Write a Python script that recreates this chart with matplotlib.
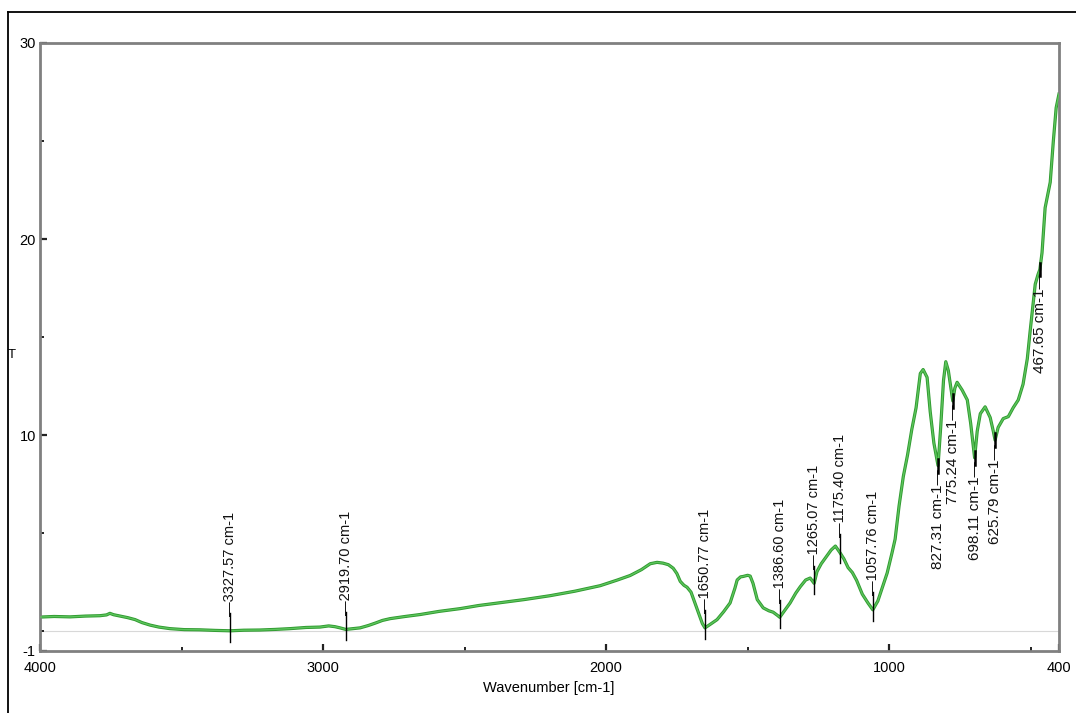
import matplotlib
matplotlib.use("Agg")
import matplotlib.pyplot as plt
import numpy as np
from matplotlib.lines import Line2D

plt.rcParams['font.family'] = ['Liberation Sans', 'DejaVu Sans']

# IR transmittance spectrum
wavenumber = [4000, 3950, 3894, 3840, 3788, 3765, 3753, 3740, 3717, 3690, 3664, 3640, 3611,
              3580, 3541, 3490, 3435, 3380, 3327.57, 3280, 3223, 3170, 3117, 3060, 3011,
              2980, 2958, 2940, 2919.70, 2895, 2869, 2840, 2816, 2790, 2763, 2710, 2657,
              2590, 2516, 2450, 2375, 2290, 2198, 2110, 2021, 1960, 1915, 1875, 1844, 1820,
              1799, 1780, 1763, 1750, 1738, 1725, 1714, 1700, 1693, 1680, 1668, 1660,
              1650.77, 1630, 1608, 1585, 1562, 1545, 1537, 1525, 1516, 1500, 1491, 1481,
              1466, 1445, 1425, 1410, 1395, 1386.60, 1370, 1350, 1330, 1314, 1295, 1279,
              1265.07, 1255, 1240, 1225, 1205, 1190, 1175.40, 1160, 1145, 1130, 1115, 1095,
              1075, 1057.76, 1040, 1025, 1007, 990, 979, 965, 950, 935, 920, 905, 890, 880,
              866, 855, 842, 827.31, 818, 808, 800, 791, 784, 775.24, 768, 760, 742, 724,
              712, 698.11, 689, 678, 661, 643, 632, 625.79, 615, 597, 579, 562, 544, 527,
              512, 502, 484, 474, 467.65, 460, 449, 431, 420, 410, 400]
transmittance = [0.73, 0.76, 0.74, 0.78, 0.80, 0.84, 0.92, 0.85, 0.78, 0.70, 0.60, 0.45, 0.32,
                 0.22, 0.14, 0.09, 0.08, 0.05, 0.03, 0.06, 0.07, 0.10, 0.14, 0.20, 0.22,
                 0.28, 0.24, 0.18, 0.10, 0.14, 0.18, 0.30, 0.42, 0.56, 0.65, 0.76, 0.86,
                 1.02, 1.16, 1.32, 1.46, 1.62, 1.82, 2.05, 2.33, 2.62, 2.85, 3.15, 3.45, 3.52,
                 3.48, 3.40, 3.22, 2.95, 2.55, 2.35, 2.25, 2.00, 1.72, 1.20, 0.72, 0.40,
                 0.18, 0.38, 0.60, 1.00, 1.45, 2.20, 2.62, 2.78, 2.80, 2.86, 2.82, 2.45,
                 1.62, 1.20, 1.05, 0.98, 0.82, 0.72, 1.05, 1.45, 1.95, 2.28, 2.62, 2.72,
                 2.45, 3.05, 3.45, 3.75, 4.15, 4.35, 4.05, 3.70, 3.25, 3.00, 2.60, 1.90,
                 1.45, 1.10, 1.55, 2.20, 2.98, 4.00, 4.70, 6.40, 7.90, 9.00, 10.30, 11.40,
                 13.15, 13.35, 12.95, 11.20, 9.60, 8.45, 10.40, 12.80, 13.75, 13.30, 12.60,
                 11.75, 12.40, 12.70, 12.30, 11.80, 10.60, 8.85, 10.20, 11.10, 11.45, 10.90,
                 10.20, 9.75, 10.40, 10.85, 10.95, 11.40, 11.80, 12.60, 13.90, 15.30, 17.70,
                 18.20, 18.45, 19.30, 21.60, 22.90, 25.00, 26.70, 27.40]

# Peak annotations: labels above the trace and labels hanging below it
peaks_above = [3327.57, 2919.70, 1650.77, 1386.60, 1265.07, 1175.40, 1057.76]
peaks_below = [827.31, 775.24, 698.11, 625.79, 467.65]

x_ticks = [4000, 3000, 2000, 1000, 400]
x_minor = [3500, 2500, 1500, 500]
y_ticks = [-1, 10, 20, 30]
y_minor = [0, 5, 15, 25]

fig = plt.figure(figsize=(10.76, 7.13), dpi=100)
ax = fig.add_axes([40 / 1076, 1 - 651 / 713, (1059 - 40) / 1076, (651 - 43) / 713])

ax.axhline(0, color='#d8d8d8', lw=0.8, zorder=1)
ax.plot(wavenumber, transmittance, color='#2f9a2f', lw=2.3, zorder=2, solid_joinstyle='round')
ax.plot(wavenumber, transmittance, color='#5cc45c', lw=1.0, zorder=3, solid_joinstyle='round')

wn = np.array(wavenumber)[::-1]
tr = np.array(transmittance)[::-1]

for p in peaks_above:
    y = np.interp(p, wn, tr)
    ax.plot([p, p], [y - 0.55, y + 0.9], color='black', lw=1.0, zorder=4)
    ax.text(p, y + 0.75, f"\u2014{p:.2f} cm-1", rotation=90, ha='center', va='bottom',
            fontsize=10.5, color='#111111')

for p in peaks_below:
    y = np.interp(p, wn, tr)
    ax.plot([p, p], [y + 0.35, y - 0.35], color='black', lw=1.8, zorder=4)
    ax.text(p, y - 0.2, f"{p:.2f} cm-1\u2014", rotation=90, ha='center', va='top',
            fontsize=11, color='#111111')

ax.set_xlim(4000, 400)
ax.set_ylim(-1, 30)
ax.set_xticks(x_ticks)
ax.set_xticklabels([str(v) for v in x_ticks])
ax.set_xticks(x_minor, minor=True)
ax.set_yticks(y_ticks)
ax.set_yticklabels([str(v) for v in y_ticks])
ax.set_yticks(y_minor, minor=True)
ax.tick_params(which='major', direction='in', length=5, width=1.6, color='#222222',
               labelsize=10.5, pad=3)
ax.tick_params(which='minor', direction='in', length=3, width=1.4, color='#222222')
ax.tick_params(axis='x', which='major', pad=7)

for s in ax.spines.values():
    s.set_color('#808080')
    s.set_linewidth(2.0)

fig.text(549 / 1076, 1 - 688 / 713, "Wavenumber [cm-1]", ha='center', va='center', fontsize=10.5)
fig.text(12 / 1076, 1 - 355 / 713, "T", ha='center', va='center', fontsize=9.5)

# page frame along the top and left edges
fig.add_artist(Line2D([8 / 1076, 1.0], [1 - 12 / 713, 1 - 12 / 713], color='black', lw=1.3,
                      transform=fig.transFigure))
fig.add_artist(Line2D([8 / 1076, 8 / 1076], [0.0, 1 - 12 / 713], color='black', lw=1.3,
                      transform=fig.transFigure))

fig.savefig("out.png", dpi=100)
